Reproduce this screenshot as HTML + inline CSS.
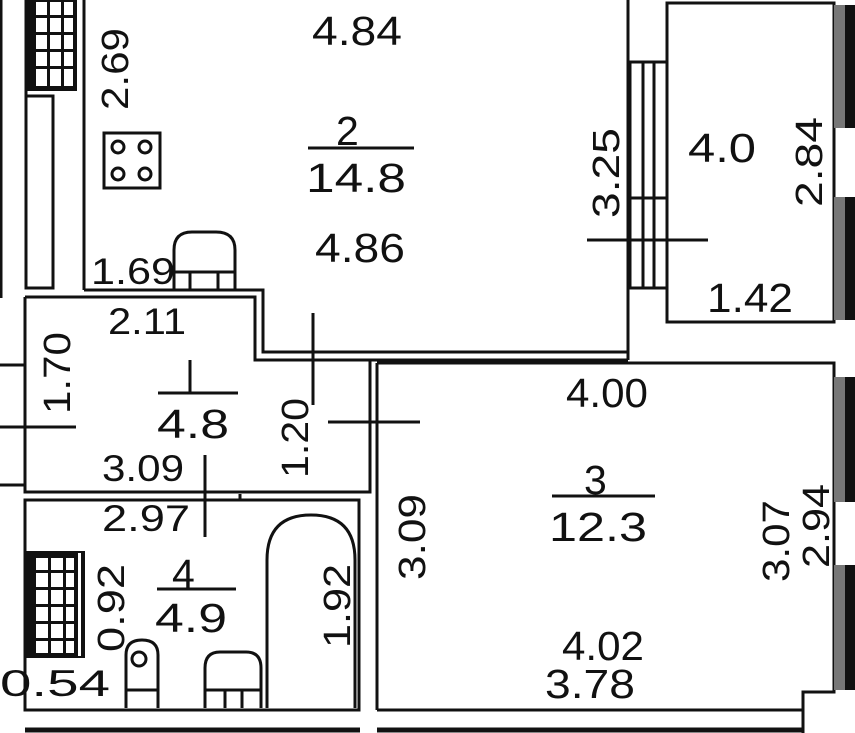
<!DOCTYPE html>
<html><head><meta charset="utf-8"><style>
html,body{margin:0;padding:0;background:#fff;}
svg{display:block;}
text{font-family:"Liberation Sans",sans-serif;fill:#111;}
</style></head><body>
<svg width="855" height="733" viewBox="0 0 855 733" xmlns="http://www.w3.org/2000/svg">
<rect width="855" height="733" fill="#fff"/>
<g stroke="#111" stroke-width="3" fill="none">
<line x1="1" y1="0" x2="1" y2="298"/>
<rect x="26" y="96" width="27" height="192"/>
<line x1="84" y1="0" x2="84" y2="290"/>
<line x1="26" y1="0" x2="26" y2="96"/>
<polyline points="84,290 263,290 263,352 628,352 628,0"/>
<polyline points="25,297 255,297 255,360 628,360"/>
<line x1="628" y1="360" x2="628" y2="352"/>
<polyline points="25,297 25,492 370,492 370,360"/>
<line x1="377" y1="363" x2="377" y2="710"/>
<line x1="0" y1="365" x2="25" y2="365"/>
<line x1="0" y1="485" x2="25" y2="485"/>
<line x1="0" y1="427" x2="76" y2="427"/>
<rect x="667" y="3" width="167" height="319"/>
<rect x="630" y="62" width="37" height="226"/>
<line x1="643" y1="62" x2="643" y2="288"/>
<line x1="654" y1="62" x2="654" y2="288"/>
<line x1="630" y1="198" x2="667" y2="198"/>
<line x1="587" y1="240" x2="708" y2="240"/>
<polyline points="377,363 834,363 834,692 803,692 803,733"/>
<line x1="377" y1="710" x2="803" y2="710"/>
<rect x="25" y="500" width="334" height="210"/>
<line x1="240" y1="494" x2="240" y2="500"/>
<line x1="25" y1="730" x2="360" y2="730" stroke-width="5"/>
<line x1="377" y1="730" x2="803" y2="730" stroke-width="5"/>
<line x1="190" y1="360" x2="190" y2="392"/>
<line x1="158" y1="393" x2="238" y2="393"/>
<line x1="313" y1="313" x2="313" y2="405"/>
<line x1="328" y1="422" x2="420" y2="422"/>
<line x1="205" y1="455" x2="205" y2="537"/>
<line x1="308" y1="148" x2="414" y2="148"/>
<line x1="552" y1="496" x2="655" y2="496"/>
<line x1="157" y1="589" x2="236" y2="589"/>
<rect x="104" y="133" width="56" height="55"/>
<circle cx="118" cy="147" r="6"/><circle cx="145" cy="147" r="6"/>
<circle cx="118" cy="174" r="6"/><circle cx="145" cy="174" r="6"/>
<path d="M174,290 L174,250 Q174,232 192,232 L216,232 Q235,232 235,250 L235,290"/>
<line x1="174" y1="272" x2="235" y2="272"/>
<line x1="190" y1="272" x2="190" y2="290"/><line x1="218" y1="272" x2="218" y2="290"/>
<path d="M267,708 L267,560 Q267,515 311,515 Q355,515 355,560 L355,708"/>
<path d="M126,708 L126,655 Q126,640 142,640 Q158,640 158,655 L158,708"/>
<line x1="126" y1="690" x2="158" y2="690"/>
<circle cx="139" cy="659" r="7"/>
<path d="M205,708 L205,668 Q205,652 220,652 L246,652 Q261,652 261,668 L261,708"/>
<line x1="205" y1="690" x2="261" y2="690"/>
<line x1="225" y1="690" x2="225" y2="708"/><line x1="242" y1="690" x2="242" y2="708"/>
</g>
<rect x="26" y="0" width="51" height="91" fill="#111"/>
<g fill="#fff">
<rect x="36" y="2" width="11" height="13"/><rect x="50" y="2" width="11" height="13"/><rect x="64" y="2" width="9" height="13"/>
<rect x="36" y="18" width="11" height="14"/><rect x="50" y="18" width="11" height="14"/><rect x="64" y="18" width="9" height="14"/>
<rect x="36" y="35" width="11" height="14"/><rect x="50" y="35" width="11" height="14"/><rect x="64" y="35" width="9" height="14"/>
<rect x="36" y="52" width="11" height="14"/><rect x="50" y="52" width="11" height="14"/><rect x="64" y="52" width="9" height="14"/>
<rect x="36" y="69" width="11" height="17"/><rect x="50" y="69" width="11" height="17"/><rect x="64" y="69" width="9" height="17"/>
</g>
<rect x="26" y="551" width="59" height="107" fill="#111"/>
<g fill="#fff">
<rect x="36" y="558" width="12" height="12"/><rect x="51" y="558" width="12" height="12"/><rect x="66" y="558" width="8" height="12"/>
<rect x="36" y="573" width="12" height="14"/><rect x="51" y="573" width="12" height="14"/><rect x="66" y="573" width="8" height="14"/>
<rect x="36" y="590" width="12" height="14"/><rect x="51" y="590" width="12" height="14"/><rect x="66" y="590" width="8" height="14"/>
<rect x="36" y="607" width="12" height="14"/><rect x="51" y="607" width="12" height="14"/><rect x="66" y="607" width="8" height="14"/>
<rect x="36" y="624" width="12" height="14"/><rect x="51" y="624" width="12" height="14"/><rect x="66" y="624" width="8" height="14"/>
<rect x="36" y="641" width="12" height="12"/><rect x="51" y="641" width="12" height="12"/><rect x="66" y="641" width="8" height="12"/>
<rect x="78" y="553" width="3" height="103"/>
</g>
<g>
<rect x="834" y="5" width="11" height="123" fill="#777"/><rect x="845" y="5" width="10" height="123" fill="#111"/>
<rect x="834" y="197" width="11" height="123" fill="#777"/><rect x="845" y="197" width="10" height="123" fill="#111"/>
<rect x="834" y="377" width="11" height="125" fill="#777"/><rect x="845" y="377" width="10" height="125" fill="#111"/>
<rect x="834" y="565" width="11" height="125" fill="#777"/><rect x="845" y="565" width="10" height="125" fill="#111"/>
</g>
<g font-size="41" lengthAdjust="spacingAndGlyphs">
<text lengthAdjust="spacingAndGlyphs" x="312" y="45" textLength="90">4.84</text>
<text x="336" y="145">2</text>
<text lengthAdjust="spacingAndGlyphs" x="306" y="192" textLength="100">14.8</text>
<text lengthAdjust="spacingAndGlyphs" x="315" y="262" textLength="90">4.86</text>
<text lengthAdjust="spacingAndGlyphs" x="91" y="284" textLength="84" font-size="37">1.69</text>
<text lengthAdjust="spacingAndGlyphs" x="108" y="334" textLength="78" font-size="37">2.11</text>
<text lengthAdjust="spacingAndGlyphs" x="157" y="438" textLength="72">4.8</text>
<text lengthAdjust="spacingAndGlyphs" x="102" y="481" textLength="82" font-size="37">3.09</text>
<text lengthAdjust="spacingAndGlyphs" x="102" y="531" textLength="88" font-size="37">2.97</text>
<text x="172" y="588">4</text>
<text lengthAdjust="spacingAndGlyphs" x="155" y="632" textLength="72">4.9</text>
<text lengthAdjust="spacingAndGlyphs" x="0" y="696" textLength="110" font-size="37">0.54</text>
<text lengthAdjust="spacingAndGlyphs" x="688" y="162" textLength="68">4.0</text>
<text lengthAdjust="spacingAndGlyphs" x="707" y="312" textLength="86">1.42</text>
<text lengthAdjust="spacingAndGlyphs" x="566" y="407" textLength="82">4.00</text>
<text x="584" y="494">3</text>
<text lengthAdjust="spacingAndGlyphs" x="549" y="541" textLength="98">12.3</text>
<text lengthAdjust="spacingAndGlyphs" x="562" y="660" textLength="82">4.02</text>
<text lengthAdjust="spacingAndGlyphs" x="545" y="698" textLength="90">3.78</text>
</g>
<g font-size="38">
<text lengthAdjust="spacingAndGlyphs" transform="translate(128,110) rotate(-90)" textLength="82">2.69</text>
<text lengthAdjust="spacingAndGlyphs" transform="translate(70,414) rotate(-90)" textLength="82">1.70</text>
<text lengthAdjust="spacingAndGlyphs" transform="translate(308,478) rotate(-90)" textLength="80">1.20</text>
<text lengthAdjust="spacingAndGlyphs" transform="translate(124,652) rotate(-90)" textLength="88">0.92</text>
<text lengthAdjust="spacingAndGlyphs" transform="translate(350,648) rotate(-90)" textLength="84">1.92</text>
<text lengthAdjust="spacingAndGlyphs" transform="translate(425,580) rotate(-90)" textLength="86">3.09</text>
<text lengthAdjust="spacingAndGlyphs" transform="translate(619,218) rotate(-90)" textLength="90">3.25</text>
<text lengthAdjust="spacingAndGlyphs" transform="translate(822,207) rotate(-90)" textLength="90">2.84</text>
<text lengthAdjust="spacingAndGlyphs" transform="translate(789,582) rotate(-90)" textLength="82">3.07</text>
<text lengthAdjust="spacingAndGlyphs" transform="translate(829,568) rotate(-90)" textLength="84">2.94</text>
</g>
</svg>
</body></html>
